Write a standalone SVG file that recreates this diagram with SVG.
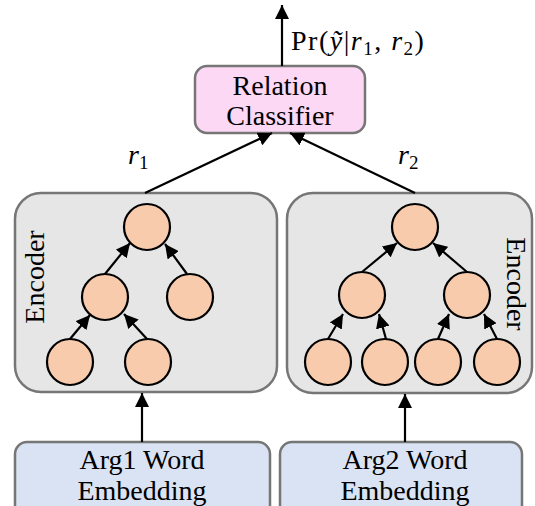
<svg xmlns="http://www.w3.org/2000/svg" width="535" height="506" viewBox="0 0 535 506">
<defs>
<marker id="ahb" viewBox="0 0 10 10" refX="10" refY="5" markerWidth="14" markerHeight="14" orient="auto" markerUnits="userSpaceOnUse">
<path d="M0,0 L10,5 L0,10 z" fill="#000"/>
</marker>
<style>
.box{stroke:#767676;stroke-width:2.5}
.enc{fill:#e6e6e6}
.emb{fill:#dae3f3}
.cls{fill:#fcd8f4}
.n{fill:#f8cbad;stroke:#000;stroke-width:2.2}
.t{font-family:"Liberation Serif",serif;font-size:28px;fill:#000;text-anchor:middle}
.e{stroke:#000;stroke-width:2.2;fill:none;marker-end:url(#ahb)}
.m{font-family:"Liberation Serif",serif;font-size:28px;fill:#000}
</style>
</defs>
<g id="classifier">
<rect class="box cls" x="195" y="66" width="170" height="67" rx="12"/>
<text class="t" x="280" y="95">Relation</text>
<text class="t" x="280" y="125">Classifier</text>
</g>
<g id="encoder1">
<rect class="box enc" x="15" y="193" width="262" height="199" rx="26"/>
<text class="t" font-size="29" transform="translate(44,277) rotate(-90)">Encoder</text>
<circle class="n" cx="147" cy="227" r="23"/>
<circle class="n" cx="105" cy="297" r="23"/>
<circle class="n" cx="190" cy="297" r="23"/>
<circle class="n" cx="70" cy="362" r="23"/>
<circle class="n" cx="148" cy="362" r="23"/>
</g>
<g id="encoder2">
<rect class="box enc" x="287" y="193" width="245" height="200" rx="26"/>
<text class="t" font-size="29" transform="translate(507,284) rotate(90)">Encoder</text>
<circle class="n" cx="415" cy="227" r="23"/>
<circle class="n" cx="362" cy="295" r="23"/>
<circle class="n" cx="467" cy="295" r="23"/>
<circle class="n" cx="328" cy="362" r="23"/>
<circle class="n" cx="385" cy="362" r="23"/>
<circle class="n" cx="438" cy="362" r="23"/>
<circle class="n" cx="497" cy="362" r="23"/>
</g>
<g id="emb1">
<rect class="box emb" x="15" y="442" width="255" height="80" rx="12"/>
<text class="t" x="142" y="469">Arg1 Word</text>
<text class="t" x="142" y="500">Embedding</text>
</g>
<g id="emb2">
<rect class="box emb" x="280" y="442" width="242" height="80" rx="12"/>
<text class="t" x="405" y="469">Arg2 Word</text>
<text class="t" x="405" y="500">Embedding</text>
</g>
<g id="connectors">
<line class="e" x1="282" y1="66" x2="282" y2="5"/>
<line class="e" x1="145" y1="193" x2="272" y2="133"/>
<line class="e" x1="415" y1="193" x2="290" y2="133"/>
<line class="e" x1="142" y1="442" x2="142" y2="393"/>
<line class="e" x1="405" y1="442" x2="405" y2="394"/>
<line class="e" x1="105" y1="274" x2="130" y2="243"/>
<line class="e" x1="187" y1="274" x2="165" y2="244"/>
<line class="e" x1="70" y1="339" x2="90" y2="315"/>
<line class="e" x1="147" y1="339" x2="124" y2="314"/>
<line class="e" x1="362" y1="272" x2="397" y2="243"/>
<line class="e" x1="467" y1="272" x2="433" y2="243"/>
<line class="e" x1="328" y1="339" x2="343" y2="314"/>
<line class="e" x1="386" y1="339" x2="379" y2="314"/>
<line class="e" x1="438" y1="339" x2="449" y2="314"/>
<line class="e" x1="497" y1="339" x2="484" y2="314"/>
</g>
<g id="labels">
<text class="m" x="291" y="50" letter-spacing="1.5">Pr(<tspan font-style="italic">ỹ</tspan>|<tspan font-style="italic">r</tspan><tspan font-size="19" dy="5">1</tspan><tspan dy="-5">, </tspan><tspan font-style="italic">r</tspan><tspan font-size="19" dy="5">2</tspan><tspan dy="-5">)</tspan></text>
<text class="m" x="128" y="164"><tspan font-style="italic">r</tspan><tspan font-size="19" dy="5">1</tspan></text>
<text class="m" x="398" y="164"><tspan font-style="italic">r</tspan><tspan font-size="19" dy="5">2</tspan></text>
</g>
</svg>
